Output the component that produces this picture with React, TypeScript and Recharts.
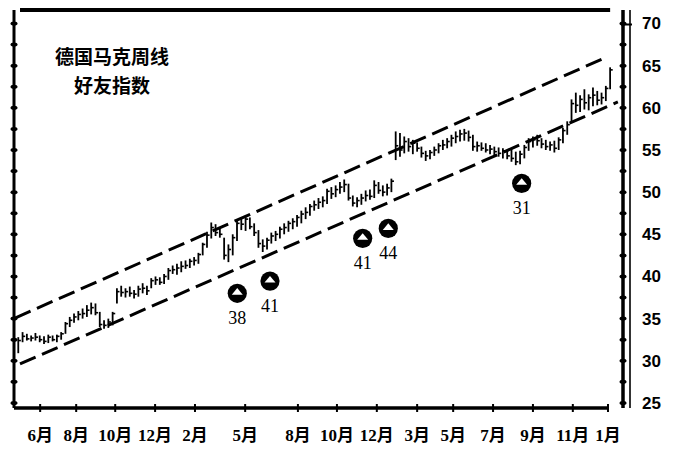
import React from 'react';
import { ComposedChart, Bar, Scatter, XAxis, YAxis, ReferenceLine } from 'recharts';

// Weekly bars (week index = position in array + 1)
const lows = [
  30.9, 32.2, 32.4, 32.3, 32.4, 32.2, 32.0, 32.1, 32.3, 32.2,
  32.5, 33.2, 34.0, 34.5, 34.8, 35.0, 35.2, 35.5, 35.4, 34.0,
  33.8, 33.9, 34.2, 36.8, 37.6, 37.5, 37.6, 37.4, 37.6, 38.0,
  37.8, 38.6, 39.0, 39.0, 39.1, 39.6, 40.3, 40.2, 40.5, 40.9,
  41.0, 41.3, 41.5, 42.5, 43.4, 44.5, 44.8, 44.6, 42.0, 41.7,
  42.5, 44.2, 45.5, 45.4, 45.6, 44.8, 43.4, 42.9, 43.2, 43.9,
  44.2, 44.5, 45.0, 45.3, 45.6, 45.9, 46.3, 46.8, 47.2, 47.8,
  48.0, 48.2, 48.6, 49.2, 49.4, 49.8, 50.0, 49.0, 48.3, 48.2,
  48.5, 48.9, 49.1, 49.3, 49.8, 49.5, 49.6, 50.0, 53.8, 54.2,
  54.6, 54.8, 54.5, 54.8, 54.1, 53.7, 53.9, 54.3, 54.6, 55.0,
  55.2, 55.4, 55.8, 56.0, 56.1, 56.0, 54.9, 54.8, 54.9, 54.7,
  54.5, 54.4, 54.2, 54.0, 53.9, 53.6, 53.2, 53.3, 54.0, 54.9,
  55.3, 55.5, 55.2, 55.0, 54.9, 54.7, 55.0, 55.8, 56.8, 58.2,
  59.4, 59.5, 59.8, 59.7, 60.2, 60.3, 60.4, 60.8, 62.2,
];
const highs = [
  32.8, 33.4, 33.2, 33.0, 33.3, 33.0, 32.9, 33.1, 33.0, 33.1,
  33.4, 34.6, 35.2, 35.6, 35.9, 36.2, 36.6, 36.9, 36.8, 35.8,
  34.8, 35.0, 35.8, 38.6, 38.9, 38.6, 38.8, 38.4, 38.9, 39.2,
  38.9, 39.8, 40.0, 39.9, 40.3, 41.0, 41.3, 41.5, 41.8, 41.9,
  42.1, 42.3, 42.8, 44.0, 45.3, 46.4, 46.2, 45.7, 44.6, 43.8,
  45.0, 46.6, 47.0, 47.2, 47.0, 46.3, 45.5, 44.4, 44.6, 45.2,
  45.4, 45.9, 46.3, 46.6, 46.9, 47.3, 47.8, 48.2, 48.6, 49.0,
  49.3, 49.5, 50.4, 50.6, 50.8, 51.2, 51.5, 51.0, 49.6, 49.4,
  49.8, 50.2, 50.3, 51.4, 51.2, 50.8, 51.0, 51.6, 57.2, 57.0,
  56.6, 56.4, 56.2, 55.9, 55.4, 54.9, 55.0, 55.4, 55.8, 56.2,
  56.4, 56.8, 57.2, 57.4, 57.5, 57.3, 56.8, 56.0, 55.9, 55.8,
  55.6, 55.4, 55.3, 55.2, 55.0, 55.1, 54.8, 54.9, 55.6, 56.4,
  56.6, 56.8, 56.4, 56.2, 56.0, 56.1, 56.5, 57.6, 58.4, 61.0,
  61.8, 61.5, 62.2, 61.6, 62.4, 62.0, 61.8, 62.6, 64.8,
];
const closes = [
  32.4, 32.9, 32.6, 32.7, 32.8, 32.5, 32.3, 32.8, 32.5, 32.9,
  33.2, 34.4, 34.8, 35.2, 35.5, 35.6, 36.0, 36.3, 35.7, 34.3,
  34.2, 34.6, 35.6, 38.2, 38.1, 38.2, 38.0, 37.9, 38.5, 38.6,
  38.3, 39.5, 39.6, 39.3, 40.0, 40.7, 40.8, 41.0, 41.2, 41.3,
  41.8, 41.9, 42.6, 43.8, 44.9, 45.8, 45.2, 45.0, 42.5, 43.2,
  44.6, 46.3, 46.2, 46.8, 45.9, 45.2, 43.9, 43.6, 44.3, 44.8,
  45.0, 45.6, 45.8, 46.3, 46.5, 47.0, 47.4, 47.6, 48.3, 48.5,
  48.8, 49.0, 50.1, 49.8, 50.3, 50.6, 50.9, 49.3, 48.7, 49.0,
  49.3, 49.6, 49.5, 50.8, 50.2, 50.0, 50.5, 51.3, 55.5, 55.0,
  56.0, 55.4, 55.8, 55.2, 54.6, 54.3, 54.7, 55.0, 55.5, 55.6,
  56.0, 56.4, 56.6, 56.9, 57.0, 56.5, 55.4, 55.5, 55.2, 55.0,
  55.1, 54.8, 54.6, 54.9, 54.3, 54.0, 53.6, 54.5, 55.3, 56.0,
  56.2, 56.1, 55.7, 55.4, 55.6, 55.2, 56.2, 57.3, 58.0, 60.5,
  60.3, 61.0, 60.6, 61.2, 61.5, 60.9, 61.2, 62.3, 64.5,
];

// Month ticks (week positions) and labels
const monthTickWeeks = [6.1, 14.5, 23.6, 32.9, 42.2, 53.9, 66.2, 75.3, 84.6, 94.0, 102.4, 111.7, 121.0, 130.3, 138.5];
const monthLabels = ['6月', '8月', '10月', '12月', '2月', '5月', '8月', '10月', '12月', '3月', '5月', '7月', '9月', '11月', '1月'];

// Price ticks
const priceTicks = [25, 27.5, 30, 32.5, 35, 37.5, 40, 42.5, 45, 47.5, 50, 52.5, 55, 57.5, 60, 62.5, 65, 67.5, 70];

// Sentiment markers (friendly index)
const markerWeeks = [52.06, 59.69, 81.3, 87.27, 118.37];
const markerPrices = [38.0, 39.45, 44.52, 45.7, 51.04];
const markerValues = [38, 41, 41, 44, 31];

// Channel lines
const upperChannel = [{ x: 0.23, y: 35.07 }, { x: 138.26, y: 66.03 }];
const lowerChannel = [{ x: 1.4, y: 29.62 }, { x: 140.8, y: 60.69 }];

const X_DOMAIN: [number, number] = [0, 142];
const Y_DOMAIN: [number, number] = [24.4, 71.6];

const bars = lows.map((l, i) => ({ w: i + 1, range: [l, highs[i]], c: closes[i] }));
const markers = markerWeeks.map((w, i) => ({ w, p: markerPrices[i], v: markerValues[i] }));

const OhlcShape = (props: any) => {
  const { x, y, width, height, payload } = props;
  if (x == null || y == null || height == null) return null;
  const top = Math.min(y, y + height);
  const bot = Math.max(y, y + height);
  const cx = x + width / 2;
  const [l, h] = payload.range;
  const yc = top + ((h - payload.c) / (h - l)) * (bot - top);
  return (
    <g>
      <line x1={cx} x2={cx} y1={top} y2={bot} stroke="#000" strokeWidth={1.8} />
      <line x1={cx} x2={cx + 2.6} y1={yc} y2={yc} stroke="#000" strokeWidth={1.6} />
    </g>
  );
};

const MarkerShape = (props: any) => {
  const { cx, cy, payload } = props;
  if (cx == null || cy == null) return null;
  return (
    <g>
      <circle cx={cx} cy={cy} r={9.6} fill="#000" />
      <path d={`M${cx - 5.5},${cy + 1.5} L${cx + 5.5},${cy + 1.5} L${cx},${cy - 5.2} Z`} fill="#fff" />
      <text x={cx} y={cy + 31} textAnchor="middle" fontFamily="'Liberation Serif', serif" fontSize={18} fill="#000">
        {payload.v}
      </text>
    </g>
  );
};

const MonthTick = (props: any) => {
  const { x, y, payload } = props;
  const idx = monthTickWeeks.indexOf(payload.value);
  return (
    <g>
      <rect x={x - 1} y={y - 4} width={2} height={8} fill="#000" />
      <text
        x={x}
        y={y + 33}
        textAnchor="middle"
        fontFamily="'Liberation Serif', 'Noto Sans CJK SC', serif"
        fontWeight="bold"
        fontSize={17}
        fill="#000"
      >
        {monthLabels[idx]}
      </text>
    </g>
  );
};

const LeftTick = (props: any) => {
  const { x, y } = props;
  return <ellipse cx={x} cy={y} rx={3.5} ry={2} fill="#000" />;
};

const RightTick = (props: any) => {
  const { x, y, payload } = props;
  const v = payload.value;
  const major = Math.abs(v / 5 - Math.round(v / 5)) < 1e-6;
  return (
    <g>
      <ellipse cx={x} cy={y} rx={3.5} ry={2} fill="#000" />
      {v === 70 && <line x1={x - 2} x2={x + 9} y1={y + 1} y2={y + 1} stroke="#000" strokeWidth={2} />}
      {major && (
        <text
          x={x + 19}
          y={y + 6}
          textAnchor="start"
          fontFamily="'Liberation Sans', Arial, sans-serif"
          fontWeight="bold"
          fontSize={17}
          fill="#000"
        >
          {v}
        </text>
      )}
    </g>
  );
};

export default function App() {
  return (
    <div style={{ position: 'absolute', left: 0, top: 0, width: 677, height: 454, background: '#fff' }}>
      <ComposedChart width={677} height={454} data={bars} margin={{ top: 10, right: 0, bottom: 16, left: 0 }}>
        <XAxis
          dataKey="w"
          type="number"
          domain={X_DOMAIN}
          ticks={monthTickWeeks}
          interval={0}
          allowDataOverflow
          axisLine={false}
          tickLine={false}
          tickSize={0}
          tickMargin={0}
          height={30}
          tick={<MonthTick />}
        />
        <YAxis
          yAxisId="L"
          orientation="left"
          type="number"
          domain={Y_DOMAIN}
          allowDataOverflow
          ticks={priceTicks}
          interval={0}
          width={14}
          tickLine={false}
          tickSize={0}
          tickMargin={0}
          axisLine={{ stroke: '#000', strokeWidth: 3 }}
          tick={<LeftTick />}
        />
        <YAxis
          yAxisId="R"
          orientation="right"
          type="number"
          domain={Y_DOMAIN}
          allowDataOverflow
          ticks={priceTicks}
          interval={0}
          width={7}
          tickLine={false}
          tickSize={0}
          tickMargin={0}
          axisLine={{ stroke: '#000', strokeWidth: 3.5 }}
          tick={<RightTick />}
        />
        <YAxis
          yAxisId="T"
          orientation="right"
          type="number"
          domain={Y_DOMAIN}
          allowDataOverflow
          ticks={[]}
          width={47}
          tickLine={false}
          tick={false}
          axisLine={{ stroke: '#000', strokeWidth: 1.6 }}
        />
        <ReferenceLine
          yAxisId="R"
          segment={[{ x: 1.4, y: Y_DOMAIN[1] }, { x: 139.0, y: Y_DOMAIN[1] }]}
          stroke="#000"
          strokeWidth={4}
          ifOverflow="visible"
        />
        <ReferenceLine
          yAxisId="R"
          segment={[{ x: 0, y: Y_DOMAIN[0] }, { x: 138.5, y: Y_DOMAIN[0] }]}
          stroke="#000"
          strokeWidth={3.5}
          ifOverflow="visible"
        />
        <ReferenceLine
          yAxisId="R"
          segment={upperChannel}
          stroke="#000"
          strokeWidth={3}
          strokeDasharray="17 7"
          ifOverflow="visible"
        />
        <ReferenceLine
          yAxisId="R"
          segment={lowerChannel}
          stroke="#000"
          strokeWidth={3}
          strokeDasharray="17 7"
          ifOverflow="visible"
        />
        <Bar yAxisId="R" dataKey="range" barSize={3} shape={<OhlcShape />} isAnimationActive={false} />
        <Scatter yAxisId="R" data={markers} dataKey="p" shape={<MarkerShape />} isAnimationActive={false} />
      </ComposedChart>
      <div
        style={{
          position: 'absolute',
          left: 12,
          width: 200,
          top: 46,
          textAlign: 'center',
          fontFamily: "'Noto Sans CJK SC', sans-serif",
          fontWeight: 'bold',
          fontSize: 19,
          lineHeight: '19px',
          color: '#000',
        }}
      >
        德国马克周线
      </div>
      <div
        style={{
          position: 'absolute',
          left: 12,
          width: 200,
          top: 75,
          textAlign: 'center',
          fontFamily: "'Noto Sans CJK SC', sans-serif",
          fontWeight: 'bold',
          fontSize: 19,
          lineHeight: '19px',
          color: '#000',
        }}
      >
        好友指数
      </div>
    </div>
  );
}
